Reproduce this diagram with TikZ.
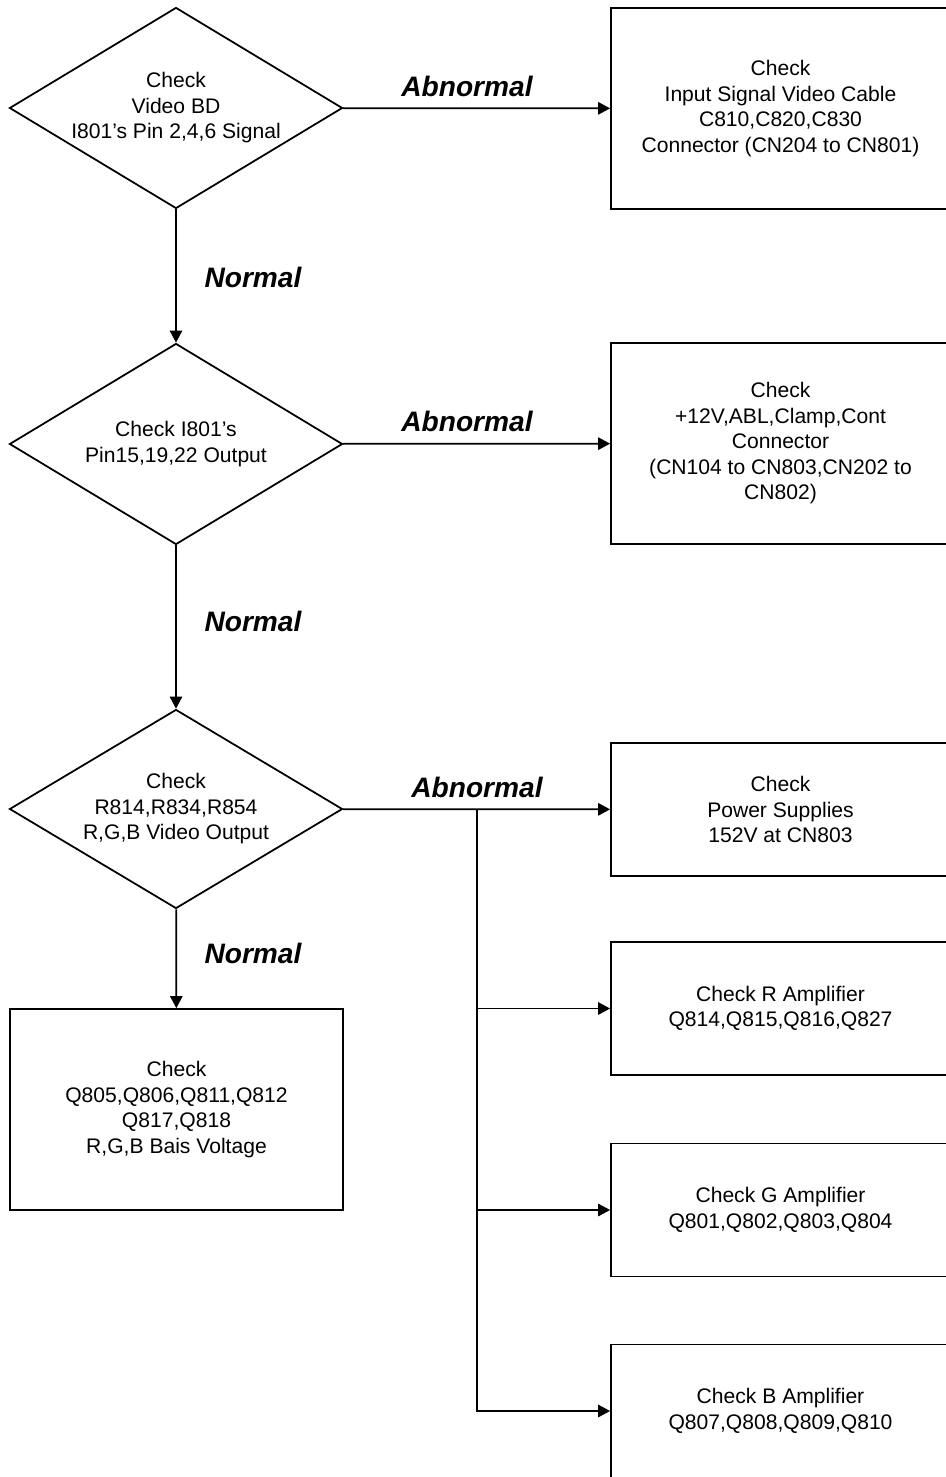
\documentclass[tikz,border=0pt]{standalone}
\usepackage{fontspec}
\setmainfont{Liberation Sans}
\usetikzlibrary{arrows.meta,positioning,shapes.geometric}

\begin{document}
\begin{tikzpicture}[
    every node/.style={
        align=center,
        font=\fontsize{12}{14.5}\selectfont
    },
    check/.style={
        diamond,
        draw,
        inner sep=0pt,
        aspect=1.657,
        minimum width=6.66cm,
        minimum height=4.02cm
    },
    fixbox/.style={
        rectangle,
        draw,
        minimum width=6.78cm,
        minimum height=2.66cm
    },
    answer/.style={
        font=\fontsize{16}{18}\selectfont\bfseries\itshape
    },
    >={Triangle[length=6.8pt,width=7pt]},
    line width=1pt
]
    \useasboundingbox (0, 0) rectangle (18.9, -29.54);

    % decisions down the left side
    \node (check_video_bd) [check, shift={(3.52, -2.16)}]
    {
        Check\\
        Video BD\\
        I801's Pin 2,4,6 Signal
    };
    \node (check_i801_out) [check, shift={(3.52, -8.88)}]
    {
        Check I801's\\
        Pin15,19,22 Output
    };
    \node (check_rgb_out) [check, minimum height=3.98cm, shift={(3.52, -16.18)}]
    {
        Check\\
        R814,R834,R854\\
        R,G,B Video Output
    };

    \node (bias_box) [fixbox, minimum width=6.66cm, minimum height=4.02cm, shift={(3.53, -22.19)}]
    {
        Check\\
        Q805,Q806,Q811,Q812\\
        Q817,Q818\\
        R,G,B Bais Voltage
    };

    % repairs on the right
    \node (cable_box) [fixbox, minimum height=4.02cm, shift={(15.61, -2.17)}]
    {
        Check\\
        Input Signal Video Cable\\
        C810,C820,C830\\
        Connector (CN204 to CN801)
    };
    \node (connector_box) [fixbox, minimum height=4.02cm, shift={(15.61, -8.87)}]
    {
        Check\\
        +12V,ABL,Clamp,Cont\\
        Connector\\
        (CN104 to CN803,CN202 to\\
        CN802)
    };
    \node (power_box) [fixbox, shift={(15.61, -16.19)}]
    {
        Check\\
        Power Supplies\\
        152V at CN803
    };
    \node (amp_r_box) [fixbox, shift={(15.61, -20.17)}]
    {
        Check R Amplifier\\
        Q814,Q815,Q816,Q827
    };
    \node (amp_g_box) [fixbox, shift={(15.61, -24.2)}]
    {
        Check G Amplifier\\
        Q801,Q802,Q803,Q804
    };
    \node (amp_b_box) [fixbox, shift={(15.61, -28.22)}]
    {
        Check B Amplifier\\
        Q807,Q808,Q809,Q810
    };

    % branch labels
    \node (abnormal_1) [answer, shift={(9.34, -1.72)}] {Abnormal};
    \node (abnormal_2) [answer, shift={(9.34, -8.42)}] {Abnormal};
    \node (abnormal_3) [answer, shift={(9.54, -15.74)}] {Abnormal};
    \node (normal_1) [answer, shift={(5.06, -5.54)}] {Normal};
    \node (normal_2) [answer, shift={(5.06, -12.42)}] {Normal};
    \node (normal_3) [answer, shift={(5.06, -19.06)}] {Normal};

    \coordinate (amp_fork) at (9.54, -16.18);

    \draw[->] (check_video_bd) to (cable_box);
    \draw[->] (check_video_bd) to (check_i801_out);
    \draw[->] (check_i801_out) to (connector_box);
    \draw[->] (check_i801_out) to (check_rgb_out);
    \draw[->] (check_rgb_out) to (power_box);
    \draw[->] (check_rgb_out) to (bias_box);

    \draw[->] (amp_fork) |- (amp_r_box);
    \draw[->] (amp_fork) |- (amp_g_box);
    \draw[->] (amp_fork) |- (amp_b_box);

\end{tikzpicture}
\end{document}
